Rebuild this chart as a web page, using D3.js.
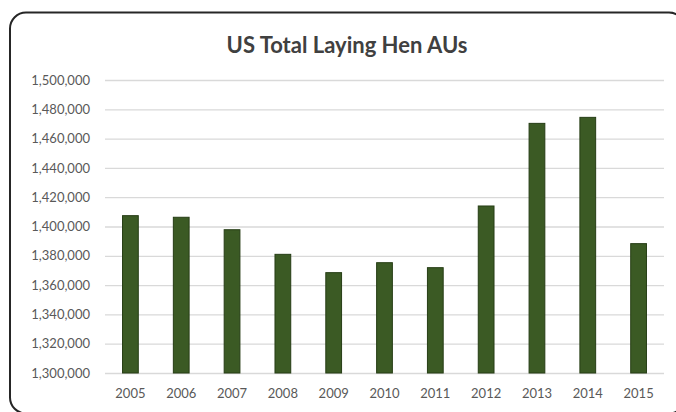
<!DOCTYPE html>
<html>
<head>
<meta charset="utf-8">
<script src="https://cdn.jsdelivr.net/npm/d3@7"></script>
<style>
  body { margin: 0; background: #fff; }
  svg { display: block; }
</style>
</head>
<body>
<svg id="chart" width="676" height="412"></svg>
<script>
// data
var years = ["2005", "2006", "2007", "2008", "2009", "2010", "2011", "2012", "2013", "2014", "2015"];
var henAUs = [1407400, 1406300, 1397800, 1381000, 1368500, 1375300, 1371900, 1414000, 1470400, 1474500, 1388300];
var yTicks = [1300000, 1320000, 1340000, 1360000, 1380000, 1400000, 1420000, 1440000, 1460000, 1480000, 1500000];

var svg = d3.select("#chart");
var margin = { top: 80, right: 12, bottom: 39, left: 105 },
  width = 676 - margin.left - margin.right,
  height = 412 - margin.top - margin.bottom;

// outer rounded frame, cropped at right and bottom like the source image
svg.append("rect")
  .attr("x", 10).attr("y", 12.5)
  .attr("width", 675).attr("height", 401)
  .attr("rx", 16).attr("ry", 16)
  .attr("fill", "#fff")
  .attr("stroke", "#262626")
  .attr("stroke-width", 2);

svg.append("text")
  .attr("x", 347).attr("y", 53)
  .attr("text-anchor", "middle")
  .attr("font-family", "Lato, 'Open Sans', sans-serif")
  .attr("font-weight", "bold")
  .attr("font-size", "22px")
  .attr("fill", "#404040")
  .text("US Total Laying Hen AUs");

var g = svg.append("g")
  .attr("transform", "translate(" + margin.left + "," + margin.top + ")");

var x = d3.scaleBand().domain(years).range([0, width]).paddingInner(0.69).paddingOuter(0.345);
var y = d3.scaleLinear().domain([1300000, 1500000]).range([height, 0]);

var yAxis = d3.axisLeft(y).tickValues(yTicks).tickSize(-width).tickFormat(d3.format(","));
g.append("g")
  .call(yAxis)
  .call(function (a) {
    a.select(".domain").remove();
    a.selectAll("line").attr("stroke", "#d9d9d9").attr("stroke-width", 1.3);
    a.selectAll("text")
      .attr("x", -15)
      .attr("fill", "#595959")
      .attr("font-family", "Lato, 'Open Sans', sans-serif")
      .attr("font-size", "13px");
  });

var xAxis = d3.axisBottom(x).tickSize(0).tickPadding(16);
g.append("g")
  .attr("transform", "translate(0," + height + ")")
  .call(xAxis)
  .call(function (a) {
    a.select(".domain").remove();
    a.selectAll("text")
      .attr("fill", "#595959")
      .attr("font-family", "Lato, 'Open Sans', sans-serif")
      .attr("font-size", "13px");
  });

g.append("g")
  .selectAll("rect")
  .data(henAUs)
  .join("rect")
  .attr("x", function (d, i) { return x(years[i]); })
  .attr("y", function (d) { return y(d); })
  .attr("width", x.bandwidth())
  .attr("height", function (d) { return height - y(d); })
  .attr("fill", "#3b5a24")
  .attr("stroke", "#263d15")
  .attr("stroke-width", 1);
</script>
</body>
</html>
